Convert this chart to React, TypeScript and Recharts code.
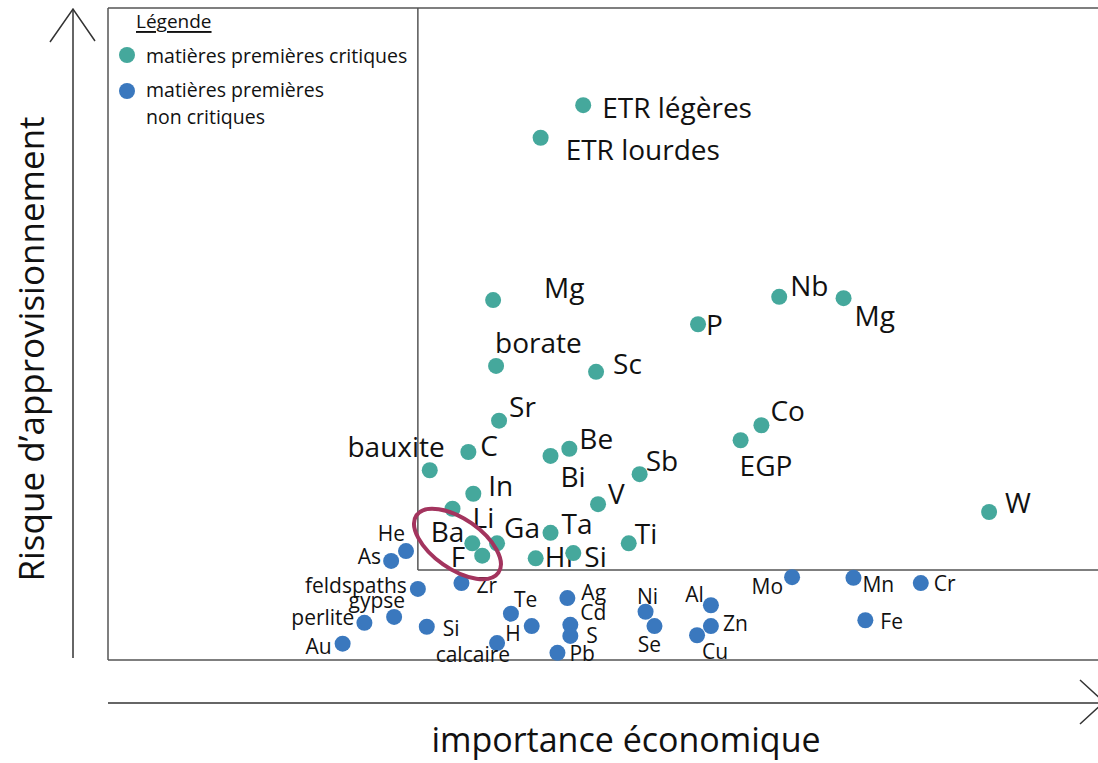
import React from 'react';
import {
  ScatterChart,
  Scatter,
  XAxis,
  YAxis,
  ReferenceLine,
  ReferenceDot,
} from 'recharts';

// matières premières critiques
const criticalNames = [
  'ETR légères', 'ETR lourdes', 'Mg', 'Nb', 'Mg ', 'P', 'borate', 'Sc', 'Sr', 'Co',
  'EGP', 'bauxite', 'C', 'Be', 'Bi', 'Sb', 'In', 'V', 'W', 'Li',
  'Ga', 'Ta', 'Ti', 'Ba', 'F', 'Hf', 'Si',
];
const criticalImportance = [
  48.0, 43.7, 38.9, 67.8, 74.3, 59.6, 39.2, 49.3, 39.5, 66.0,
  63.9, 32.5, 36.4, 46.6, 44.7, 53.7, 36.9, 49.5, 89.0, 34.8,
  39.3, 44.7, 52.6, 36.8, 37.8, 43.2, 47.0,
];
const criticalRisk = [
  85.1, 80.1, 55.2, 55.7, 55.5, 51.5, 45.1, 44.2, 36.7, 36.0,
  33.7, 29.1, 31.9, 32.4, 31.3, 28.5, 25.5, 23.9, 22.7, 23.2,
  17.9, 19.5, 17.9, 17.9, 16.0, 15.6, 16.4,
];

// matières premières non critiques
const otherNames = [
  'He', 'As', 'feldspaths', 'Zr', 'gypse', 'perlite', 'Si', 'Au', 'Te', 'H',
  'calcaire', 'Ag', 'Cd', 'S', 'Pb', 'Ni', 'Se', 'Al', 'Zn', 'Cu',
  'Mo', 'Mn', 'Cr', 'Fe',
];
const otherImportance = [
  30.1, 28.6, 31.3, 35.7, 28.9, 25.9, 32.2, 23.7, 40.7, 42.8,
  39.3, 46.4, 46.7, 46.7, 45.4, 54.3, 55.2, 60.9, 60.9, 59.5,
  69.1, 75.3, 82.1, 76.5,
];
const otherRisk = [
  16.7, 15.2, 10.9, 11.8, 6.6, 5.7, 5.1, 2.5, 7.1, 5.2,
  2.6, 9.5, 5.4, 3.7, 1.1, 7.4, 5.2, 8.4, 5.2, 3.8,
  12.7, 12.6, 11.8, 6.1,
];

// seuils de criticité
const importanceThreshold = 31.3;
const riskThreshold = 13.8;

const TEAL = '#45a89c';
const BLUE = '#3a78be';
const FONT = '"Open Sans", sans-serif';

// label placement: [dx, dy, anchor]
type Place = [number, number, 'start' | 'middle' | 'end'];
const criticalPlace: Place[] = [
  [19, 2, 'start'], [25, 11, 'start'], [51, -13, 'start'], [11, -12, 'start'], [11, 17, 'start'],
  [8, 0, 'start'], [-1, -24, 'start'], [17, -9, 'start'], [10, -15, 'start'], [9, -15, 'start'],
  [-1, 25, 'start'], [15, -24, 'end'], [12, -7, 'start'], [10, -11, 'start'], [10, 20, 'start'],
  [6, -14, 'start'], [15, -9, 'start'], [10, -11, 'start'], [16, -10, 'start'], [20, 8, 'start'],
  [7, -16, 'start'], [11, -10, 'start'], [6, -10, 'start'], [-8, -12, 'end'], [-17, 0, 'end'],
  [9, -2, 'start'], [11, 3, 'start'],
];
const otherPlace: Place[] = [
  [-1, -18, 'end'], [-10, -5, 'end'], [-11, -4, 'end'], [15, 2, 'start'], [11, -17, 'end'],
  [-10, -6, 'end'], [16, 1, 'start'], [-11, 2, 'end'], [3, -15, 'start'], [-11, 7, 'end'],
  [13, 11, 'end'], [14, -6, 'start'], [10, -13, 'start'], [16, -1, 'start'], [12, 0, 'start'],
  [2, -16, 'middle'], [-5, 18, 'middle'], [-7, -11, 'end'], [12, -3, 'start'], [5, 16, 'start'],
  [-9, 9, 'end'], [9, 6, 'start'], [13, 0, 'start'], [15, 1, 'start'],
];

const criticalData = criticalNames.map((name, i) => ({
  name: name.trim(), x: criticalImportance[i], y: criticalRisk[i], place: criticalPlace[i],
}));
const otherData = otherNames.map((name, i) => ({
  name, x: otherImportance[i], y: otherRisk[i], place: otherPlace[i],
}));

const makeDot = (color: string, fontSize: number) => (props: any) => {
  const { cx, cy, payload } = props;
  const [dx, dy, anchor] = payload.place as Place;
  return (
    <g>
      <circle cx={cx} cy={cy} r={8} fill={color} />
      <text
        x={cx + dx}
        y={cy + dy}
        textAnchor={anchor}
        dominantBaseline="central"
        fontSize={fontSize}
        fontFamily={FONT}
        fill="#111"
      >
        {payload.name}
      </text>
    </g>
  );
};

const Ellipse = (props: any) => {
  const { cx, cy } = props;
  return (
    <ellipse
      cx={cx}
      cy={cy}
      rx={50}
      ry={25}
      transform={`rotate(35 ${cx} ${cy})`}
      fill="none"
      stroke="#a3345e"
      strokeWidth={4}
    />
  );
};

const lineColor = '#555';
const textProps = { fontFamily: FONT, fill: '#111', dominantBaseline: 'central' as const };

export default function App() {
  return (
    <div style={{ position: 'absolute', left: 0, top: 0, width: 1098, height: 763, background: '#fff' }}>
      <ScatterChart width={1098} height={763} margin={{ top: 8, right: 0, bottom: 103, left: 108 }}>
        <XAxis type="number" dataKey="x" domain={[0, 100]} hide />
        <YAxis type="number" dataKey="y" domain={[0, 100]} hide />
        <ReferenceLine y={100} stroke={lineColor} strokeWidth={1.5} />
        <ReferenceLine y={0} stroke={lineColor} strokeWidth={1.5} />
        <ReferenceLine x={0} stroke={lineColor} strokeWidth={1.5} />
        <ReferenceLine
          segment={[{ x: importanceThreshold, y: 100 }, { x: importanceThreshold, y: riskThreshold }]}
          stroke={lineColor}
          strokeWidth={1.5}
        />
        <ReferenceLine
          segment={[{ x: importanceThreshold, y: riskThreshold }, { x: 100, y: riskThreshold }]}
          stroke={lineColor}
          strokeWidth={1.5}
        />
        <Scatter data={otherData} shape={makeDot(BLUE, 21)} isAnimationActive={false} />
        <Scatter data={criticalData} shape={makeDot(TEAL, 28)} isAnimationActive={false} />
        <ReferenceDot x={35.3} y={17.8} r={1} shape={Ellipse} />
        {/* légende */}
        <g>
          <text x={136} y={21} fontSize={19} textDecoration="underline" {...textProps}>
            Légende
          </text>
          <circle cx={127} cy={55} r={8} fill={TEAL} />
          <text x={146} y={55} fontSize={19.5} {...textProps}>matières premières critiques</text>
          <circle cx={127} cy={91} r={8} fill={BLUE} />
          <text x={146} y={89} fontSize={19.5} {...textProps}>matières premières</text>
          <text x={146} y={116} fontSize={19.5} {...textProps}>non critiques</text>
        </g>
        {/* axes fléchés */}
        <g>
          <line x1={73} y1={9} x2={73} y2={658} stroke="#333" strokeWidth={1.5} />
          <polyline points="50,42 73,9 95,41" fill="none" stroke="#333" strokeWidth={1.5} />
          <line x1={108} y1={703} x2={1100} y2={703} stroke="#333" strokeWidth={1.5} />
          <polyline points="1080,680 1104,702 1080,724" fill="none" stroke="#333" strokeWidth={1.5} />
          <text x={626} y={739} textAnchor="middle" fontSize={34} {...textProps}>
            importance économique
          </text>
          <text
            x={30}
            y={349}
            textAnchor="middle"
            fontSize={35}
            transform="rotate(-90 30 349)"
            {...textProps}
          >
            Risque d’approvisionnement
          </text>
        </g>
      </ScatterChart>
    </div>
  );
}
